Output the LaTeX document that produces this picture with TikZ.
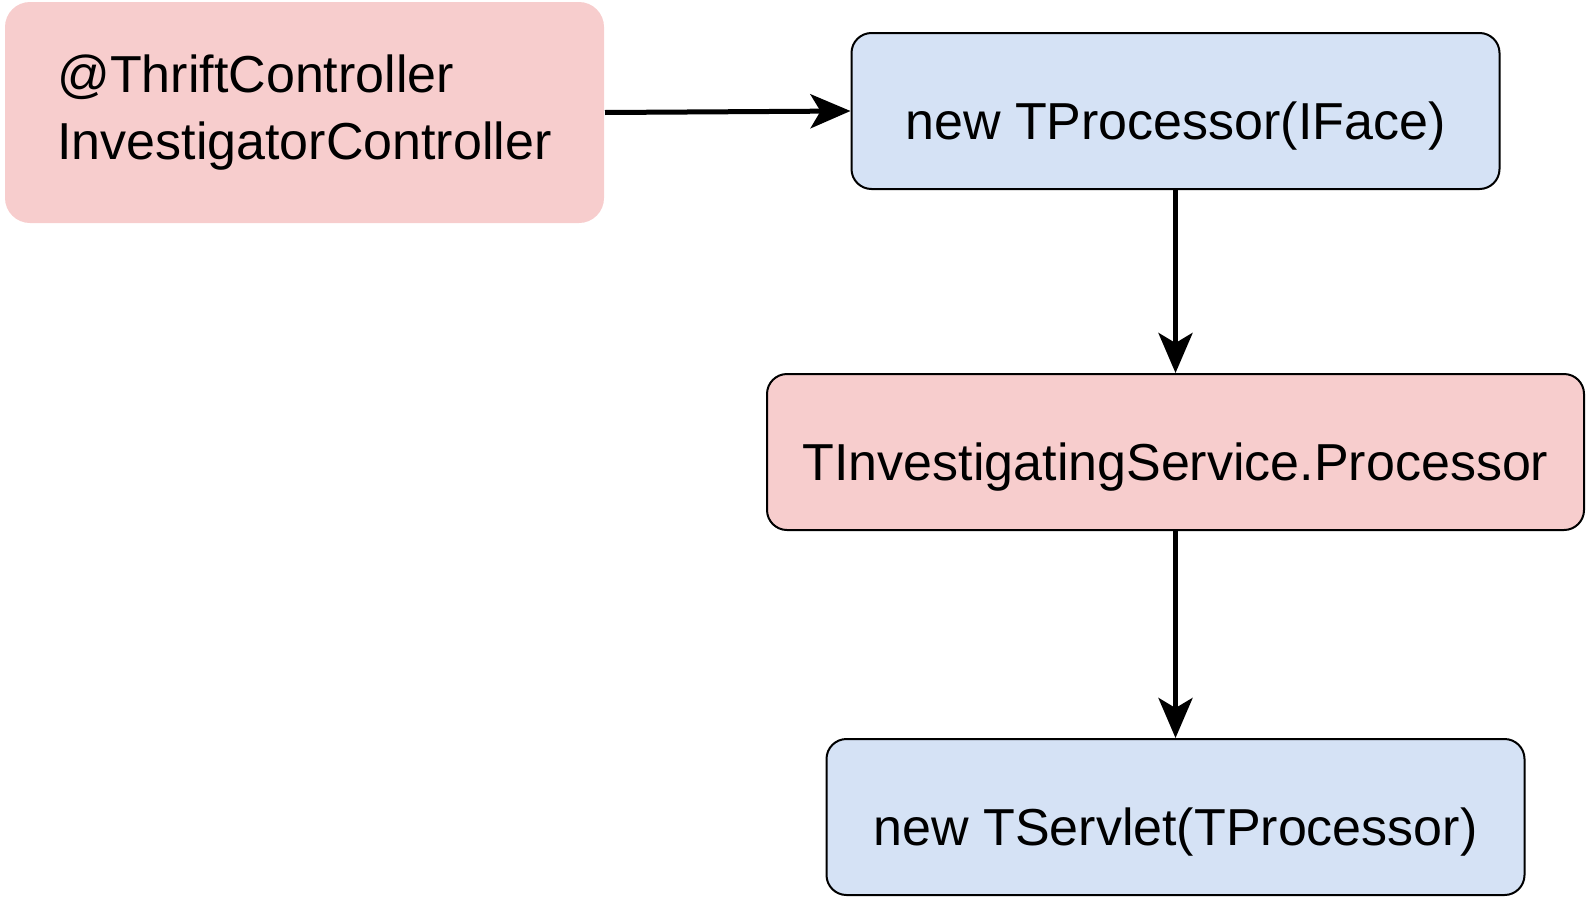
\documentclass[tikz,border=0pt]{standalone}
\usepackage{fontspec}
\setmainfont{Liberation Sans}
\usetikzlibrary{arrows.meta}
\definecolor{redfill}{RGB}{247,205,205}
\definecolor{bluefill}{RGB}{213,226,245}
\tikzset{
  boxr/.style={fill=redfill, rounded corners=20pt, draw=black, line width=2pt, inner sep=0pt, font=\fontsize{52}{67}\selectfont},
  boxb/.style={fill=bluefill, rounded corners=20pt, draw=black, line width=2pt, inner sep=0pt, font=\fontsize{52}{67}\selectfont},
  lowtext/.style={text height=66pt, text depth=10pt},
  conn/.style={line width=5pt, -{Stealth[length=40pt,width=34pt,inset=10pt]}}
}
\begin{document}
\begin{tikzpicture}[x=1pt,y=-1pt]
\useasboundingbox (0,0) rectangle (1586,897);
\node[boxr, draw=none, rounded corners=25pt, minimum width=599pt, minimum height=221pt, align=left] (b1) at (304.5,112.5) {@ThriftController\\InvestigatorController};
\node[boxb, lowtext, minimum width=648pt, minimum height=156pt] (b2) at (1175.5,111) {new TProcessor(IFace)};
\node[boxr, lowtext, minimum width=817pt, minimum height=156pt] (b3) at (1175.5,452) {TInvestigatingService.Processor};
\node[boxb, lowtext, minimum width=698pt, minimum height=156pt] (b4) at (1175.5,817) {new TServlet(TProcessor)};
\draw[conn] (b1.east) -- (b2.west);
\draw[conn] (b2.south) -- (b3.north);
\draw[conn] (b3.south) -- (b4.north);
\end{tikzpicture}
\end{document}
